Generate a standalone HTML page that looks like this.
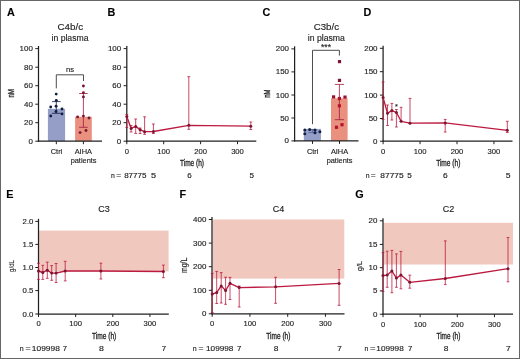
<!DOCTYPE html>
<html><head><meta charset="utf-8"><style>
html,body{margin:0;padding:0;background:#fff;width:520px;height:359px;overflow:hidden;position:relative}
</style></head><body>
<svg width="520" height="359" viewBox="0 0 520 359" style="display:block;position:absolute;left:0;top:0;filter:blur(0.25px)">
<g font-family='"Liberation Sans", sans-serif'>
<rect x="0" y="0" width="520" height="359" fill="#fff"/>
<text x="6.9" y="15.9" font-size="10.8" text-anchor="start" font-weight="bold" fill="#000"  stroke="#2a2a2a" stroke-width="0.15">A</text>
<text x="107.6" y="15.8" font-size="10.8" text-anchor="start" font-weight="bold" fill="#000"  stroke="#2a2a2a" stroke-width="0.15">B</text>
<text x="262.5" y="15.9" font-size="10.8" text-anchor="start" font-weight="bold" fill="#000"  stroke="#2a2a2a" stroke-width="0.15">C</text>
<text x="363.4" y="15.9" font-size="10.8" text-anchor="start" font-weight="bold" fill="#000"  stroke="#2a2a2a" stroke-width="0.15">D</text>
<text x="6.2" y="198" font-size="10.8" text-anchor="start" font-weight="bold" fill="#000"  stroke="#2a2a2a" stroke-width="0.15">E</text>
<text x="179.4" y="197.9" font-size="10.8" text-anchor="start" font-weight="bold" fill="#000"  stroke="#2a2a2a" stroke-width="0.15">F</text>
<text x="355.3" y="198.1" font-size="10.8" text-anchor="start" font-weight="bold" fill="#000"  stroke="#2a2a2a" stroke-width="0.15">G</text>
<text x="70.35" y="29.7" font-size="9.5" text-anchor="middle" font-weight="normal" fill="#222" textLength="25.6" lengthAdjust="spacingAndGlyphs"  stroke="#2a2a2a" stroke-width="0.15">C4b/c</text>
<text x="70.0" y="40.5" font-size="8.4" text-anchor="middle" font-weight="normal" fill="#222" textLength="37.0" lengthAdjust="spacingAndGlyphs"  stroke="#2a2a2a" stroke-width="0.15">in plasma</text>
<rect x="47.9" y="108.8" width="17.2" height="32.39999999999999" fill="#949ec6"/>
<rect x="75.1" y="116.8" width="16.7" height="24.39999999999999" fill="#e9907f"/>
<line x1="56.3" y1="101.6" x2="56.3" y2="113.3" stroke="#101e42" stroke-width="0.8"/>
<line x1="52.0" y1="101.6" x2="60.599999999999994" y2="101.6" stroke="#101e42" stroke-width="0.8"/>
<line x1="52.0" y1="113.3" x2="60.599999999999994" y2="113.3" stroke="#101e42" stroke-width="0.8"/>
<line x1="83.4" y1="93.5" x2="83.4" y2="127.3" stroke="#a01a40" stroke-width="0.8"/>
<line x1="79.10000000000001" y1="93.5" x2="87.7" y2="93.5" stroke="#a01a40" stroke-width="0.8"/>
<line x1="79.10000000000001" y1="127.3" x2="87.7" y2="127.3" stroke="#a01a40" stroke-width="0.8"/>
<circle cx="56.2" cy="94.1" r="1.45" fill="#101e42"/>
<circle cx="56.3" cy="100.5" r="1.45" fill="#101e42"/>
<circle cx="56.1" cy="106.3" r="1.45" fill="#101e42"/>
<circle cx="50.7" cy="107" r="1.45" fill="#101e42"/>
<circle cx="62" cy="109" r="1.45" fill="#101e42"/>
<circle cx="56" cy="111.5" r="1.45" fill="#101e42"/>
<circle cx="62" cy="113.9" r="1.45" fill="#101e42"/>
<circle cx="50.7" cy="116" r="1.45" fill="#101e42"/>
<circle cx="83.4" cy="86" r="1.45" fill="#7d1532"/>
<circle cx="83.4" cy="92.8" r="1.45" fill="#7d1532"/>
<circle cx="83.4" cy="96.9" r="1.45" fill="#7d1532"/>
<circle cx="77.6" cy="116.9" r="1.45" fill="#7d1532"/>
<circle cx="83.4" cy="116.1" r="1.45" fill="#7d1532"/>
<circle cx="89" cy="118" r="1.45" fill="#7d1532"/>
<circle cx="80.1" cy="132.6" r="1.45" fill="#7d1532"/>
<circle cx="86" cy="130.5" r="1.45" fill="#7d1532"/>
<path d="M56.3,88.4 V74.8 H83.5 V81" fill="none" stroke="#3a3a3a" stroke-width="0.9"/>
<text x="70.0" y="72.3" font-size="7.6" text-anchor="middle" font-weight="normal" fill="#222"  stroke="#2a2a2a" stroke-width="0.15">ns</text>
<line x1="38.5" y1="46.0" x2="38.5" y2="141.79999999999998" stroke="#202020" stroke-width="1.25"/>
<line x1="35.3" y1="48.6" x2="38.5" y2="48.6" stroke="#202020" stroke-width="1.0"/>
<text x="32.9" y="51.1" font-size="7.4" text-anchor="end" font-weight="normal" fill="#222" textLength="13.26" lengthAdjust="spacingAndGlyphs"  stroke="#2a2a2a" stroke-width="0.15">100</text>
<line x1="35.3" y1="67.2" x2="38.5" y2="67.2" stroke="#202020" stroke-width="1.0"/>
<text x="32.9" y="69.7" font-size="7.4" text-anchor="end" font-weight="normal" fill="#222" textLength="8.84" lengthAdjust="spacingAndGlyphs"  stroke="#2a2a2a" stroke-width="0.15">80</text>
<line x1="35.3" y1="85.7" x2="38.5" y2="85.7" stroke="#202020" stroke-width="1.0"/>
<text x="32.9" y="88.2" font-size="7.4" text-anchor="end" font-weight="normal" fill="#222" textLength="8.84" lengthAdjust="spacingAndGlyphs"  stroke="#2a2a2a" stroke-width="0.15">60</text>
<line x1="35.3" y1="104.2" x2="38.5" y2="104.2" stroke="#202020" stroke-width="1.0"/>
<text x="32.9" y="106.7" font-size="7.4" text-anchor="end" font-weight="normal" fill="#222" textLength="8.84" lengthAdjust="spacingAndGlyphs"  stroke="#2a2a2a" stroke-width="0.15">40</text>
<line x1="35.3" y1="122.7" x2="38.5" y2="122.7" stroke="#202020" stroke-width="1.0"/>
<text x="32.9" y="125.2" font-size="7.4" text-anchor="end" font-weight="normal" fill="#222" textLength="8.84" lengthAdjust="spacingAndGlyphs"  stroke="#2a2a2a" stroke-width="0.15">20</text>
<line x1="35.3" y1="141.2" x2="38.5" y2="141.2" stroke="#202020" stroke-width="1.0"/>
<text x="32.9" y="143.7" font-size="7.4" text-anchor="end" font-weight="normal" fill="#222" textLength="4.42" lengthAdjust="spacingAndGlyphs"  stroke="#2a2a2a" stroke-width="0.15">0</text>
<line x1="37.9" y1="141.2" x2="102" y2="141.2" stroke="#202020" stroke-width="1.25"/>
<line x1="56.3" y1="141.2" x2="56.3" y2="144.2" stroke="#202020" stroke-width="1.0"/>
<line x1="83.4" y1="141.2" x2="83.4" y2="144.2" stroke="#202020" stroke-width="1.0"/>
<text x="56.5" y="153.6" font-size="7.4" text-anchor="middle" font-weight="normal" fill="#222"  stroke="#2a2a2a" stroke-width="0.15">Ctrl</text>
<text x="83.3" y="153.6" font-size="7.4" text-anchor="middle" font-weight="normal" fill="#222"  stroke="#2a2a2a" stroke-width="0.15">AIHA</text>
<text x="83.6" y="162.6" font-size="7.4" text-anchor="middle" font-weight="normal" fill="#222"  stroke="#2a2a2a" stroke-width="0.15">patients</text>
<text x="0" y="0" font-size="8.4" text-anchor="middle" fill="#222" stroke="#2a2a2a" stroke-width="0.35" transform="translate(13.9,93.3) rotate(-90)" textLength="8.6" lengthAdjust="spacingAndGlyphs">nM</text>
<line x1="126.8" y1="46.0" x2="126.8" y2="141.79999999999998" stroke="#202020" stroke-width="1.25"/>
<line x1="123.6" y1="48.6" x2="126.8" y2="48.6" stroke="#202020" stroke-width="1.0"/>
<text x="121.2" y="51.1" font-size="7.4" text-anchor="end" font-weight="normal" fill="#222" textLength="13.26" lengthAdjust="spacingAndGlyphs"  stroke="#2a2a2a" stroke-width="0.15">100</text>
<line x1="123.6" y1="67.2" x2="126.8" y2="67.2" stroke="#202020" stroke-width="1.0"/>
<text x="121.2" y="69.7" font-size="7.4" text-anchor="end" font-weight="normal" fill="#222" textLength="8.84" lengthAdjust="spacingAndGlyphs"  stroke="#2a2a2a" stroke-width="0.15">80</text>
<line x1="123.6" y1="85.7" x2="126.8" y2="85.7" stroke="#202020" stroke-width="1.0"/>
<text x="121.2" y="88.2" font-size="7.4" text-anchor="end" font-weight="normal" fill="#222" textLength="8.84" lengthAdjust="spacingAndGlyphs"  stroke="#2a2a2a" stroke-width="0.15">60</text>
<line x1="123.6" y1="104.2" x2="126.8" y2="104.2" stroke="#202020" stroke-width="1.0"/>
<text x="121.2" y="106.7" font-size="7.4" text-anchor="end" font-weight="normal" fill="#222" textLength="8.84" lengthAdjust="spacingAndGlyphs"  stroke="#2a2a2a" stroke-width="0.15">40</text>
<line x1="123.6" y1="122.7" x2="126.8" y2="122.7" stroke="#202020" stroke-width="1.0"/>
<text x="121.2" y="125.2" font-size="7.4" text-anchor="end" font-weight="normal" fill="#222" textLength="8.84" lengthAdjust="spacingAndGlyphs"  stroke="#2a2a2a" stroke-width="0.15">20</text>
<line x1="123.6" y1="141.2" x2="126.8" y2="141.2" stroke="#202020" stroke-width="1.0"/>
<text x="121.2" y="143.7" font-size="7.4" text-anchor="end" font-weight="normal" fill="#222" textLength="4.42" lengthAdjust="spacingAndGlyphs"  stroke="#2a2a2a" stroke-width="0.15">0</text>
<line x1="126.2" y1="141.2" x2="256.3" y2="141.2" stroke="#202020" stroke-width="1.25"/>
<line x1="126.8" y1="141.2" x2="126.8" y2="144.2" stroke="#202020" stroke-width="1.0"/>
<text x="126.8" y="153.5" font-size="7.6" text-anchor="middle" font-weight="normal" fill="#222" textLength="4.25" lengthAdjust="spacingAndGlyphs"  stroke="#2a2a2a" stroke-width="0.15">0</text>
<line x1="163.7" y1="141.2" x2="163.7" y2="144.2" stroke="#202020" stroke-width="1.0"/>
<text x="163.7" y="153.5" font-size="7.6" text-anchor="middle" font-weight="normal" fill="#222" textLength="12.75" lengthAdjust="spacingAndGlyphs"  stroke="#2a2a2a" stroke-width="0.15">100</text>
<line x1="200.6" y1="141.2" x2="200.6" y2="144.2" stroke="#202020" stroke-width="1.0"/>
<text x="200.6" y="153.5" font-size="7.6" text-anchor="middle" font-weight="normal" fill="#222" textLength="12.75" lengthAdjust="spacingAndGlyphs"  stroke="#2a2a2a" stroke-width="0.15">200</text>
<line x1="237.5" y1="141.2" x2="237.5" y2="144.2" stroke="#202020" stroke-width="1.0"/>
<text x="237.5" y="153.5" font-size="7.6" text-anchor="middle" font-weight="normal" fill="#222" textLength="12.75" lengthAdjust="spacingAndGlyphs"  stroke="#2a2a2a" stroke-width="0.15">300</text>
<line x1="126.8" y1="114.5" x2="126.8" y2="127.5" stroke="#bc1a40" stroke-width="0.8"/>
<line x1="125.39999999999999" y1="114.5" x2="128.2" y2="114.5" stroke="#bc1a40" stroke-width="0.8"/>
<line x1="125.39999999999999" y1="127.5" x2="128.2" y2="127.5" stroke="#bc1a40" stroke-width="0.8"/>
<line x1="131.1" y1="125.5" x2="131.1" y2="132" stroke="#bc1a40" stroke-width="0.8"/>
<line x1="129.7" y1="125.5" x2="132.5" y2="125.5" stroke="#bc1a40" stroke-width="0.8"/>
<line x1="129.7" y1="132" x2="132.5" y2="132" stroke="#bc1a40" stroke-width="0.8"/>
<line x1="135.7" y1="119.0" x2="135.7" y2="133.4" stroke="#bc1a40" stroke-width="0.8"/>
<line x1="134.29999999999998" y1="119.0" x2="137.1" y2="119.0" stroke="#bc1a40" stroke-width="0.8"/>
<line x1="134.29999999999998" y1="133.4" x2="137.1" y2="133.4" stroke="#bc1a40" stroke-width="0.8"/>
<line x1="140.1" y1="128" x2="140.1" y2="133.5" stroke="#bc1a40" stroke-width="0.8"/>
<line x1="138.7" y1="128" x2="141.5" y2="128" stroke="#bc1a40" stroke-width="0.8"/>
<line x1="138.7" y1="133.5" x2="141.5" y2="133.5" stroke="#bc1a40" stroke-width="0.8"/>
<line x1="144.6" y1="116.8" x2="144.6" y2="134.3" stroke="#bc1a40" stroke-width="0.8"/>
<line x1="143.2" y1="116.8" x2="146.0" y2="116.8" stroke="#bc1a40" stroke-width="0.8"/>
<line x1="143.2" y1="134.3" x2="146.0" y2="134.3" stroke="#bc1a40" stroke-width="0.8"/>
<line x1="153.4" y1="124" x2="153.4" y2="133.5" stroke="#bc1a40" stroke-width="0.8"/>
<line x1="152.0" y1="124" x2="154.8" y2="124" stroke="#bc1a40" stroke-width="0.8"/>
<line x1="152.0" y1="133.5" x2="154.8" y2="133.5" stroke="#bc1a40" stroke-width="0.8"/>
<line x1="188.8" y1="76.7" x2="188.8" y2="129.3" stroke="#bc1a40" stroke-width="0.8"/>
<line x1="187.4" y1="76.7" x2="190.20000000000002" y2="76.7" stroke="#bc1a40" stroke-width="0.8"/>
<line x1="187.4" y1="129.3" x2="190.20000000000002" y2="129.3" stroke="#bc1a40" stroke-width="0.8"/>
<line x1="250.8" y1="122" x2="250.8" y2="129.5" stroke="#bc1a40" stroke-width="0.8"/>
<line x1="249.4" y1="122" x2="252.20000000000002" y2="122" stroke="#bc1a40" stroke-width="0.8"/>
<line x1="249.4" y1="129.5" x2="252.20000000000002" y2="129.5" stroke="#bc1a40" stroke-width="0.8"/>
<path d="M126.8,116.4 L131.1,128.4 L135.7,126.4 L140.1,129.8 L144.6,131.7 L153.4,131.5 L188.8,125.3 L250.8,126.2" fill="none" stroke="#bc1a40" stroke-width="1.35" stroke-linejoin="round"/>
<circle cx="126.8" cy="116.4" r="1.5" fill="#7d1532"/>
<circle cx="131.1" cy="128.4" r="1.5" fill="#7d1532"/>
<circle cx="135.7" cy="126.4" r="1.5" fill="#7d1532"/>
<circle cx="140.1" cy="129.8" r="1.5" fill="#7d1532"/>
<circle cx="144.6" cy="131.7" r="1.5" fill="#7d1532"/>
<circle cx="153.4" cy="131.5" r="1.5" fill="#7d1532"/>
<circle cx="188.8" cy="125.3" r="1.5" fill="#7d1532"/>
<circle cx="250.8" cy="126.2" r="1.5" fill="#7d1532"/>
<text x="179.94" y="166.1" font-size="8.8" text-anchor="start" font-weight="normal" fill="#222" textLength="24.03" lengthAdjust="spacingAndGlyphs" stroke="#222" stroke-width="0.3">Time (h)</text>
<text x="111.0" y="177.9" font-size="7.3" text-anchor="start" font-weight="normal" fill="#222" textLength="3.8" lengthAdjust="spacingAndGlyphs"  stroke="#2a2a2a" stroke-width="0.15">n</text>
<text x="116.2" y="177.9" font-size="7.3" text-anchor="start" font-weight="normal" fill="#222" textLength="4.9" lengthAdjust="spacingAndGlyphs"  stroke="#2a2a2a" stroke-width="0.15">=</text>
<text x="124.16" y="177.9" font-size="7.3" text-anchor="start" font-weight="normal" fill="#222" textLength="22.28" lengthAdjust="spacingAndGlyphs"  stroke="#2a2a2a" stroke-width="0.15">87775</text>
<text x="151.06" y="177.9" font-size="7.3" text-anchor="start" font-weight="normal" fill="#222" textLength="5.08" lengthAdjust="spacingAndGlyphs"  stroke="#2a2a2a" stroke-width="0.15">5</text>
<text x="187.16" y="177.9" font-size="7.3" text-anchor="start" font-weight="normal" fill="#222" textLength="4.48" lengthAdjust="spacingAndGlyphs"  stroke="#2a2a2a" stroke-width="0.15">6</text>
<text x="249.56" y="177.9" font-size="7.3" text-anchor="start" font-weight="normal" fill="#222" textLength="4.48" lengthAdjust="spacingAndGlyphs"  stroke="#2a2a2a" stroke-width="0.15">5</text>
<text x="326.4" y="30.0" font-size="9.5" text-anchor="middle" font-weight="normal" fill="#222" textLength="25.3" lengthAdjust="spacingAndGlyphs"  stroke="#2a2a2a" stroke-width="0.15">C3b/c</text>
<text x="326.3" y="41.0" font-size="8.4" text-anchor="middle" font-weight="normal" fill="#222" textLength="37.0" lengthAdjust="spacingAndGlyphs"  stroke="#2a2a2a" stroke-width="0.15">in plasma</text>
<rect x="303.8" y="128.9" width="17.1" height="12.0" fill="#949ec6"/>
<rect x="331.0" y="98.3" width="16.6" height="42.60000000000001" fill="#e9907f"/>
<line x1="312.4" y1="129.6" x2="312.4" y2="132.6" stroke="#3a4f86" stroke-width="0.6"/>
<line x1="308.4" y1="129.6" x2="316.4" y2="129.6" stroke="#3a4f86" stroke-width="0.6"/>
<line x1="308.4" y1="132.6" x2="316.4" y2="132.6" stroke="#3a4f86" stroke-width="0.6"/>
<line x1="339.4" y1="84.4" x2="339.4" y2="119.7" stroke="#a01a40" stroke-width="0.8"/>
<line x1="334.79999999999995" y1="84.4" x2="344.0" y2="84.4" stroke="#a01a40" stroke-width="0.8"/>
<line x1="334.79999999999995" y1="119.7" x2="344.0" y2="119.7" stroke="#a01a40" stroke-width="0.8"/>
<circle cx="304.8" cy="130" r="1.5" fill="#101e42"/>
<circle cx="309.7" cy="129.5" r="1.5" fill="#101e42"/>
<circle cx="315" cy="129.9" r="1.5" fill="#101e42"/>
<circle cx="319.9" cy="131.8" r="1.5" fill="#101e42"/>
<circle cx="304.8" cy="133.8" r="1.5" fill="#101e42"/>
<circle cx="315" cy="132.8" r="1.5" fill="#101e42"/>
<rect x="337.9" y="60.0" width="3.2" height="3.2" fill="#7d1532"/>
<rect x="337.9" y="78.80000000000001" width="3.2" height="3.2" fill="#7d1532"/>
<rect x="332.0" y="95.30000000000001" width="3.2" height="3.2" fill="#9a1030"/>
<rect x="337.79999999999995" y="96.9" width="3.2" height="3.2" fill="#b0122e"/>
<rect x="343.4" y="95.5" width="3.2" height="3.2" fill="#9a1030"/>
<rect x="337.79999999999995" y="104.2" width="3.2" height="3.2" fill="#b8132e"/>
<rect x="334.9" y="125.7" width="3.2" height="3.2" fill="#b8132e"/>
<rect x="340.4" y="123.10000000000001" width="3.2" height="3.2" fill="#b8132e"/>
<path d="M312.5,124.2 V50.3 H339.4 V55.6" fill="none" stroke="#3a3a3a" stroke-width="0.9"/>
<text x="326.0" y="50.3" font-size="8.6" text-anchor="middle" font-weight="normal" fill="#222"  stroke="#2a2a2a" stroke-width="0.15">***</text>
<line x1="294.6" y1="46.3" x2="294.6" y2="141.5" stroke="#202020" stroke-width="1.25"/>
<line x1="291.40000000000003" y1="48.9" x2="294.6" y2="48.9" stroke="#202020" stroke-width="1.0"/>
<text x="289.0" y="51.4" font-size="7.4" text-anchor="end" font-weight="normal" fill="#222" textLength="13.26" lengthAdjust="spacingAndGlyphs"  stroke="#2a2a2a" stroke-width="0.15">200</text>
<line x1="291.40000000000003" y1="71.9" x2="294.6" y2="71.9" stroke="#202020" stroke-width="1.0"/>
<text x="289.0" y="74.4" font-size="7.4" text-anchor="end" font-weight="normal" fill="#222" textLength="13.26" lengthAdjust="spacingAndGlyphs"  stroke="#2a2a2a" stroke-width="0.15">150</text>
<line x1="291.40000000000003" y1="95.0" x2="294.6" y2="95.0" stroke="#202020" stroke-width="1.0"/>
<text x="289.0" y="97.5" font-size="7.4" text-anchor="end" font-weight="normal" fill="#222" textLength="13.26" lengthAdjust="spacingAndGlyphs"  stroke="#2a2a2a" stroke-width="0.15">100</text>
<line x1="291.40000000000003" y1="118.0" x2="294.6" y2="118.0" stroke="#202020" stroke-width="1.0"/>
<text x="289.0" y="120.5" font-size="7.4" text-anchor="end" font-weight="normal" fill="#222" textLength="8.84" lengthAdjust="spacingAndGlyphs"  stroke="#2a2a2a" stroke-width="0.15">50</text>
<line x1="291.40000000000003" y1="140.9" x2="294.6" y2="140.9" stroke="#202020" stroke-width="1.0"/>
<text x="289.0" y="143.4" font-size="7.4" text-anchor="end" font-weight="normal" fill="#222" textLength="4.42" lengthAdjust="spacingAndGlyphs"  stroke="#2a2a2a" stroke-width="0.15">0</text>
<line x1="294.0" y1="140.9" x2="358.5" y2="140.9" stroke="#202020" stroke-width="1.25"/>
<line x1="312.5" y1="140.9" x2="312.5" y2="143.9" stroke="#202020" stroke-width="1.0"/>
<line x1="339.5" y1="140.9" x2="339.5" y2="143.9" stroke="#202020" stroke-width="1.0"/>
<text x="312.7" y="153.6" font-size="7.4" text-anchor="middle" font-weight="normal" fill="#222"  stroke="#2a2a2a" stroke-width="0.15">Ctrl</text>
<text x="339.5" y="153.6" font-size="7.4" text-anchor="middle" font-weight="normal" fill="#222"  stroke="#2a2a2a" stroke-width="0.15">AIHA</text>
<text x="339.6" y="162.6" font-size="7.4" text-anchor="middle" font-weight="normal" fill="#222"  stroke="#2a2a2a" stroke-width="0.15">patients</text>
<text x="0" y="0" font-size="8.4" text-anchor="middle" fill="#222" stroke="#2a2a2a" stroke-width="0.35" transform="translate(270.3,93.6) rotate(-90)" textLength="8.2" lengthAdjust="spacingAndGlyphs">nM</text>
<line x1="383.1" y1="45.699999999999996" x2="383.1" y2="141.79999999999998" stroke="#202020" stroke-width="1.25"/>
<line x1="379.90000000000003" y1="48.3" x2="383.1" y2="48.3" stroke="#202020" stroke-width="1.0"/>
<text x="377.5" y="50.8" font-size="7.4" text-anchor="end" font-weight="normal" fill="#222" textLength="13.26" lengthAdjust="spacingAndGlyphs"  stroke="#2a2a2a" stroke-width="0.15">200</text>
<line x1="379.90000000000003" y1="71.7" x2="383.1" y2="71.7" stroke="#202020" stroke-width="1.0"/>
<text x="377.5" y="74.2" font-size="7.4" text-anchor="end" font-weight="normal" fill="#222" textLength="13.26" lengthAdjust="spacingAndGlyphs"  stroke="#2a2a2a" stroke-width="0.15">150</text>
<line x1="379.90000000000003" y1="95.1" x2="383.1" y2="95.1" stroke="#202020" stroke-width="1.0"/>
<text x="377.5" y="97.6" font-size="7.4" text-anchor="end" font-weight="normal" fill="#222" textLength="13.26" lengthAdjust="spacingAndGlyphs"  stroke="#2a2a2a" stroke-width="0.15">100</text>
<line x1="379.90000000000003" y1="118.5" x2="383.1" y2="118.5" stroke="#202020" stroke-width="1.0"/>
<text x="377.5" y="121.0" font-size="7.4" text-anchor="end" font-weight="normal" fill="#222" textLength="8.84" lengthAdjust="spacingAndGlyphs"  stroke="#2a2a2a" stroke-width="0.15">50</text>
<line x1="379.90000000000003" y1="141.2" x2="383.1" y2="141.2" stroke="#202020" stroke-width="1.0"/>
<text x="377.5" y="143.7" font-size="7.4" text-anchor="end" font-weight="normal" fill="#222" textLength="4.42" lengthAdjust="spacingAndGlyphs"  stroke="#2a2a2a" stroke-width="0.15">0</text>
<line x1="382.5" y1="141.2" x2="512.5" y2="141.2" stroke="#202020" stroke-width="1.25"/>
<line x1="383.1" y1="141.2" x2="383.1" y2="144.2" stroke="#202020" stroke-width="1.0"/>
<text x="383.1" y="153.5" font-size="7.6" text-anchor="middle" font-weight="normal" fill="#222" textLength="4.25" lengthAdjust="spacingAndGlyphs"  stroke="#2a2a2a" stroke-width="0.15">0</text>
<line x1="420.05" y1="141.2" x2="420.05" y2="144.2" stroke="#202020" stroke-width="1.0"/>
<text x="420.05" y="153.5" font-size="7.6" text-anchor="middle" font-weight="normal" fill="#222" textLength="12.75" lengthAdjust="spacingAndGlyphs"  stroke="#2a2a2a" stroke-width="0.15">100</text>
<line x1="457.0" y1="141.2" x2="457.0" y2="144.2" stroke="#202020" stroke-width="1.0"/>
<text x="457.0" y="153.5" font-size="7.6" text-anchor="middle" font-weight="normal" fill="#222" textLength="12.75" lengthAdjust="spacingAndGlyphs"  stroke="#2a2a2a" stroke-width="0.15">200</text>
<line x1="493.95000000000005" y1="141.2" x2="493.95000000000005" y2="144.2" stroke="#202020" stroke-width="1.0"/>
<text x="493.95000000000005" y="153.5" font-size="7.6" text-anchor="middle" font-weight="normal" fill="#222" textLength="12.75" lengthAdjust="spacingAndGlyphs"  stroke="#2a2a2a" stroke-width="0.15">300</text>
<line x1="383.1" y1="82" x2="383.1" y2="119.5" stroke="#bc1a40" stroke-width="0.8"/>
<line x1="381.70000000000005" y1="82" x2="384.5" y2="82" stroke="#bc1a40" stroke-width="0.8"/>
<line x1="381.70000000000005" y1="119.5" x2="384.5" y2="119.5" stroke="#bc1a40" stroke-width="0.8"/>
<line x1="387.5" y1="105" x2="387.5" y2="125.5" stroke="#bc1a40" stroke-width="0.8"/>
<line x1="386.1" y1="105" x2="388.9" y2="105" stroke="#bc1a40" stroke-width="0.8"/>
<line x1="386.1" y1="125.5" x2="388.9" y2="125.5" stroke="#bc1a40" stroke-width="0.8"/>
<line x1="391.9" y1="103.4" x2="391.9" y2="120" stroke="#bc1a40" stroke-width="0.8"/>
<line x1="390.5" y1="103.4" x2="393.29999999999995" y2="103.4" stroke="#bc1a40" stroke-width="0.8"/>
<line x1="390.5" y1="120" x2="393.29999999999995" y2="120" stroke="#bc1a40" stroke-width="0.8"/>
<line x1="396.4" y1="109.5" x2="396.4" y2="127" stroke="#bc1a40" stroke-width="0.8"/>
<line x1="395.0" y1="109.5" x2="397.79999999999995" y2="109.5" stroke="#bc1a40" stroke-width="0.8"/>
<line x1="395.0" y1="127" x2="397.79999999999995" y2="127" stroke="#bc1a40" stroke-width="0.8"/>
<line x1="401.1" y1="107.3" x2="401.1" y2="121.3" stroke="#bc1a40" stroke-width="0.8"/>
<line x1="399.70000000000005" y1="107.3" x2="402.5" y2="107.3" stroke="#bc1a40" stroke-width="0.8"/>
<line x1="399.70000000000005" y1="121.3" x2="402.5" y2="121.3" stroke="#bc1a40" stroke-width="0.8"/>
<line x1="410" y1="98.4" x2="410" y2="123.2" stroke="#bc1a40" stroke-width="0.8"/>
<line x1="408.6" y1="98.4" x2="411.4" y2="98.4" stroke="#bc1a40" stroke-width="0.8"/>
<line x1="408.6" y1="123.2" x2="411.4" y2="123.2" stroke="#bc1a40" stroke-width="0.8"/>
<line x1="445.2" y1="119.4" x2="445.2" y2="132" stroke="#bc1a40" stroke-width="0.8"/>
<line x1="443.8" y1="119.4" x2="446.59999999999997" y2="119.4" stroke="#bc1a40" stroke-width="0.8"/>
<line x1="443.8" y1="132" x2="446.59999999999997" y2="132" stroke="#bc1a40" stroke-width="0.8"/>
<line x1="507.3" y1="121.3" x2="507.3" y2="132.5" stroke="#bc1a40" stroke-width="0.8"/>
<line x1="505.90000000000003" y1="121.3" x2="508.7" y2="121.3" stroke="#bc1a40" stroke-width="0.8"/>
<line x1="505.90000000000003" y1="132.5" x2="508.7" y2="132.5" stroke="#bc1a40" stroke-width="0.8"/>
<path d="M383.1,97.6 L387.5,113.2 L391.9,110.6 L396.4,112.5 L401.1,121.3 L410,123.2 L445.2,122.9 L507.3,130.3" fill="none" stroke="#bc1a40" stroke-width="1.35" stroke-linejoin="round"/>
<circle cx="383.1" cy="97.6" r="1.5" fill="#7d1532"/>
<circle cx="387.5" cy="113.2" r="1.5" fill="#7d1532"/>
<circle cx="391.9" cy="110.6" r="1.5" fill="#7d1532"/>
<circle cx="396.4" cy="112.5" r="1.5" fill="#7d1532"/>
<circle cx="401.1" cy="121.3" r="1.5" fill="#7d1532"/>
<circle cx="410" cy="123.2" r="1.5" fill="#7d1532"/>
<circle cx="445.2" cy="122.9" r="1.5" fill="#7d1532"/>
<circle cx="507.3" cy="130.3" r="1.5" fill="#7d1532"/>
<text x="396.4" y="108.6" font-size="7.4" text-anchor="middle" font-weight="normal" fill="#222"  stroke="#2a2a2a" stroke-width="0.15">*</text>
<text x="436.14" y="166.1" font-size="8.8" text-anchor="start" font-weight="normal" fill="#222" textLength="24.23" lengthAdjust="spacingAndGlyphs" stroke="#222" stroke-width="0.3">Time (h)</text>
<text x="365.7" y="177.9" font-size="7.3" text-anchor="start" font-weight="normal" fill="#222" textLength="3.8" lengthAdjust="spacingAndGlyphs"  stroke="#2a2a2a" stroke-width="0.15">n</text>
<text x="370.7" y="177.9" font-size="7.3" text-anchor="start" font-weight="normal" fill="#222" textLength="4.9" lengthAdjust="spacingAndGlyphs"  stroke="#2a2a2a" stroke-width="0.15">=</text>
<text x="380.36" y="177.9" font-size="7.3" text-anchor="start" font-weight="normal" fill="#222" textLength="23.28" lengthAdjust="spacingAndGlyphs"  stroke="#2a2a2a" stroke-width="0.15">87775</text>
<text x="407.36" y="177.9" font-size="7.3" text-anchor="start" font-weight="normal" fill="#222" textLength="4.48" lengthAdjust="spacingAndGlyphs"  stroke="#2a2a2a" stroke-width="0.15">5</text>
<text x="442.96" y="177.9" font-size="7.3" text-anchor="start" font-weight="normal" fill="#222" textLength="4.68" lengthAdjust="spacingAndGlyphs"  stroke="#2a2a2a" stroke-width="0.15">6</text>
<text x="505.66" y="177.9" font-size="7.3" text-anchor="start" font-weight="normal" fill="#222" textLength="4.78" lengthAdjust="spacingAndGlyphs"  stroke="#2a2a2a" stroke-width="0.15">5</text>
<rect x="39.1" y="230.6" width="129.5" height="40.79999999999998" fill="#f0c8be"/>
<line x1="38.5" y1="218.8" x2="38.5" y2="314.6" stroke="#202020" stroke-width="1.25"/>
<line x1="35.3" y1="221.4" x2="38.5" y2="221.4" stroke="#202020" stroke-width="1.0"/>
<text x="33.4" y="223.9" font-size="7.4" text-anchor="end" font-weight="normal" fill="#222" textLength="10.84" lengthAdjust="spacingAndGlyphs"  stroke="#2a2a2a" stroke-width="0.15">2.0</text>
<line x1="35.3" y1="244.4" x2="38.5" y2="244.4" stroke="#202020" stroke-width="1.0"/>
<text x="33.4" y="246.9" font-size="7.4" text-anchor="end" font-weight="normal" fill="#222" textLength="10.84" lengthAdjust="spacingAndGlyphs"  stroke="#2a2a2a" stroke-width="0.15">1.5</text>
<line x1="35.3" y1="267.5" x2="38.5" y2="267.5" stroke="#202020" stroke-width="1.0"/>
<text x="33.4" y="270.0" font-size="7.4" text-anchor="end" font-weight="normal" fill="#222" textLength="10.84" lengthAdjust="spacingAndGlyphs"  stroke="#2a2a2a" stroke-width="0.15">1.0</text>
<line x1="35.3" y1="290.6" x2="38.5" y2="290.6" stroke="#202020" stroke-width="1.0"/>
<text x="33.4" y="293.1" font-size="7.4" text-anchor="end" font-weight="normal" fill="#222" textLength="10.84" lengthAdjust="spacingAndGlyphs"  stroke="#2a2a2a" stroke-width="0.15">0.5</text>
<line x1="35.3" y1="314.0" x2="38.5" y2="314.0" stroke="#202020" stroke-width="1.0"/>
<text x="33.4" y="316.5" font-size="7.4" text-anchor="end" font-weight="normal" fill="#222" textLength="10.84" lengthAdjust="spacingAndGlyphs"  stroke="#2a2a2a" stroke-width="0.15">0.0</text>
<line x1="37.9" y1="314.0" x2="168.8" y2="314.0" stroke="#202020" stroke-width="1.25"/>
<line x1="38.5" y1="314.0" x2="38.5" y2="317.0" stroke="#202020" stroke-width="1.0"/>
<text x="38.5" y="326.3" font-size="7.6" text-anchor="middle" font-weight="normal" fill="#222" textLength="4.25" lengthAdjust="spacingAndGlyphs"  stroke="#2a2a2a" stroke-width="0.15">0</text>
<line x1="75.65" y1="314.0" x2="75.65" y2="317.0" stroke="#202020" stroke-width="1.0"/>
<text x="75.65" y="326.3" font-size="7.6" text-anchor="middle" font-weight="normal" fill="#222" textLength="12.75" lengthAdjust="spacingAndGlyphs"  stroke="#2a2a2a" stroke-width="0.15">100</text>
<line x1="112.8" y1="314.0" x2="112.8" y2="317.0" stroke="#202020" stroke-width="1.0"/>
<text x="112.8" y="326.3" font-size="7.6" text-anchor="middle" font-weight="normal" fill="#222" textLength="12.75" lengthAdjust="spacingAndGlyphs"  stroke="#2a2a2a" stroke-width="0.15">200</text>
<line x1="149.95" y1="314.0" x2="149.95" y2="317.0" stroke="#202020" stroke-width="1.0"/>
<text x="149.95" y="326.3" font-size="7.6" text-anchor="middle" font-weight="normal" fill="#222" textLength="12.75" lengthAdjust="spacingAndGlyphs"  stroke="#2a2a2a" stroke-width="0.15">300</text>
<line x1="38.5" y1="263.3" x2="38.5" y2="279.4" stroke="#bc1a40" stroke-width="0.8"/>
<line x1="37.1" y1="263.3" x2="39.9" y2="263.3" stroke="#bc1a40" stroke-width="0.8"/>
<line x1="37.1" y1="279.4" x2="39.9" y2="279.4" stroke="#bc1a40" stroke-width="0.8"/>
<line x1="42.8" y1="265.3" x2="42.8" y2="279.4" stroke="#bc1a40" stroke-width="0.8"/>
<line x1="41.4" y1="265.3" x2="44.199999999999996" y2="265.3" stroke="#bc1a40" stroke-width="0.8"/>
<line x1="41.4" y1="279.4" x2="44.199999999999996" y2="279.4" stroke="#bc1a40" stroke-width="0.8"/>
<line x1="47.3" y1="262.1" x2="47.3" y2="278.3" stroke="#bc1a40" stroke-width="0.8"/>
<line x1="45.9" y1="262.1" x2="48.699999999999996" y2="262.1" stroke="#bc1a40" stroke-width="0.8"/>
<line x1="45.9" y1="278.3" x2="48.699999999999996" y2="278.3" stroke="#bc1a40" stroke-width="0.8"/>
<line x1="51.7" y1="265.6" x2="51.7" y2="280.3" stroke="#bc1a40" stroke-width="0.8"/>
<line x1="50.300000000000004" y1="265.6" x2="53.1" y2="265.6" stroke="#bc1a40" stroke-width="0.8"/>
<line x1="50.300000000000004" y1="280.3" x2="53.1" y2="280.3" stroke="#bc1a40" stroke-width="0.8"/>
<line x1="56.1" y1="263.5" x2="56.1" y2="282.5" stroke="#bc1a40" stroke-width="0.8"/>
<line x1="54.7" y1="263.5" x2="57.5" y2="263.5" stroke="#bc1a40" stroke-width="0.8"/>
<line x1="54.7" y1="282.5" x2="57.5" y2="282.5" stroke="#bc1a40" stroke-width="0.8"/>
<line x1="65.2" y1="261.3" x2="65.2" y2="280.9" stroke="#bc1a40" stroke-width="0.8"/>
<line x1="63.800000000000004" y1="261.3" x2="66.60000000000001" y2="261.3" stroke="#bc1a40" stroke-width="0.8"/>
<line x1="63.800000000000004" y1="280.9" x2="66.60000000000001" y2="280.9" stroke="#bc1a40" stroke-width="0.8"/>
<line x1="100.9" y1="263.2" x2="100.9" y2="279" stroke="#bc1a40" stroke-width="0.8"/>
<line x1="99.5" y1="263.2" x2="102.30000000000001" y2="263.2" stroke="#bc1a40" stroke-width="0.8"/>
<line x1="99.5" y1="279" x2="102.30000000000001" y2="279" stroke="#bc1a40" stroke-width="0.8"/>
<line x1="163.4" y1="265.1" x2="163.4" y2="277.7" stroke="#bc1a40" stroke-width="0.8"/>
<line x1="162.0" y1="265.1" x2="164.8" y2="265.1" stroke="#bc1a40" stroke-width="0.8"/>
<line x1="162.0" y1="277.7" x2="164.8" y2="277.7" stroke="#bc1a40" stroke-width="0.8"/>
<path d="M38.5,271 L42.8,272.5 L47.3,270.2 L51.7,273.1 L56.1,273.1 L65.2,271 L100.9,271 L163.4,271.5" fill="none" stroke="#bc1a40" stroke-width="1.35" stroke-linejoin="round"/>
<circle cx="38.5" cy="271" r="1.5" fill="#7d1532"/>
<circle cx="42.8" cy="272.5" r="1.5" fill="#7d1532"/>
<circle cx="47.3" cy="270.2" r="1.5" fill="#7d1532"/>
<circle cx="51.7" cy="273.1" r="1.5" fill="#7d1532"/>
<circle cx="56.1" cy="273.1" r="1.5" fill="#7d1532"/>
<circle cx="65.2" cy="271" r="1.5" fill="#7d1532"/>
<circle cx="100.9" cy="271" r="1.5" fill="#7d1532"/>
<circle cx="163.4" cy="271.5" r="1.5" fill="#7d1532"/>
<text x="103.9" y="211.8" font-size="9.0" text-anchor="middle" font-weight="normal" fill="#222"  stroke="#2a2a2a" stroke-width="0.15">C3</text>
<text x="0" y="0" font-size="8.0" text-anchor="middle" fill="#222" stroke="#2a2a2a" stroke-width="0.15" transform="translate(14.1,266.0) rotate(-90)" textLength="11.8" lengthAdjust="spacingAndGlyphs">g/dL</text>
<text x="91.94" y="338.5" font-size="8.8" text-anchor="start" font-weight="normal" fill="#222" textLength="24.33" lengthAdjust="spacingAndGlyphs" stroke="#222" stroke-width="0.3">Time (h)</text>
<text x="19.8" y="351.3" font-size="7.3" text-anchor="start" font-weight="normal" fill="#222" textLength="3.9" lengthAdjust="spacingAndGlyphs"  stroke="#2a2a2a" stroke-width="0.15">n</text>
<text x="25.4" y="351.3" font-size="7.3" text-anchor="start" font-weight="normal" fill="#222" textLength="5.2" lengthAdjust="spacingAndGlyphs"  stroke="#2a2a2a" stroke-width="0.15">=</text>
<text x="31.86" y="351.3" font-size="7.3" text-anchor="start" font-weight="normal" fill="#222" textLength="27.98" lengthAdjust="spacingAndGlyphs"  stroke="#2a2a2a" stroke-width="0.15">109998</text>
<text x="62.86" y="351.3" font-size="7.3" text-anchor="start" font-weight="normal" fill="#222" textLength="4.28" lengthAdjust="spacingAndGlyphs"  stroke="#2a2a2a" stroke-width="0.15">7</text>
<text x="98.96" y="351.3" font-size="7.3" text-anchor="start" font-weight="normal" fill="#222" textLength="4.88" lengthAdjust="spacingAndGlyphs"  stroke="#2a2a2a" stroke-width="0.15">8</text>
<text x="161.76" y="351.3" font-size="7.3" text-anchor="start" font-weight="normal" fill="#222" textLength="4.38" lengthAdjust="spacingAndGlyphs"  stroke="#2a2a2a" stroke-width="0.15">7</text>
<rect x="212.6" y="219.5" width="131.70000000000002" height="59.10000000000002" fill="#f0c8be"/>
<line x1="212.0" y1="216.9" x2="212.0" y2="314.40000000000003" stroke="#202020" stroke-width="1.25"/>
<line x1="208.8" y1="219.5" x2="212.0" y2="219.5" stroke="#202020" stroke-width="1.0"/>
<text x="206.4" y="222.0" font-size="7.4" text-anchor="end" font-weight="normal" fill="#222" textLength="13.26" lengthAdjust="spacingAndGlyphs"  stroke="#2a2a2a" stroke-width="0.15">400</text>
<line x1="208.8" y1="243.1" x2="212.0" y2="243.1" stroke="#202020" stroke-width="1.0"/>
<text x="206.4" y="245.6" font-size="7.4" text-anchor="end" font-weight="normal" fill="#222" textLength="13.26" lengthAdjust="spacingAndGlyphs"  stroke="#2a2a2a" stroke-width="0.15">300</text>
<line x1="208.8" y1="266.7" x2="212.0" y2="266.7" stroke="#202020" stroke-width="1.0"/>
<text x="206.4" y="269.2" font-size="7.4" text-anchor="end" font-weight="normal" fill="#222" textLength="13.26" lengthAdjust="spacingAndGlyphs"  stroke="#2a2a2a" stroke-width="0.15">200</text>
<line x1="208.8" y1="290.3" x2="212.0" y2="290.3" stroke="#202020" stroke-width="1.0"/>
<text x="206.4" y="292.8" font-size="7.4" text-anchor="end" font-weight="normal" fill="#222" textLength="13.26" lengthAdjust="spacingAndGlyphs"  stroke="#2a2a2a" stroke-width="0.15">100</text>
<line x1="208.8" y1="313.8" x2="212.0" y2="313.8" stroke="#202020" stroke-width="1.0"/>
<text x="206.4" y="316.3" font-size="7.4" text-anchor="end" font-weight="normal" fill="#222" textLength="4.42" lengthAdjust="spacingAndGlyphs"  stroke="#2a2a2a" stroke-width="0.15">0</text>
<line x1="211.6" y1="313.8" x2="344.5" y2="313.8" stroke="#202020" stroke-width="1.25"/>
<line x1="212.2" y1="313.8" x2="212.2" y2="316.8" stroke="#202020" stroke-width="1.0"/>
<text x="212.2" y="326.1" font-size="7.6" text-anchor="middle" font-weight="normal" fill="#222" textLength="4.25" lengthAdjust="spacingAndGlyphs"  stroke="#2a2a2a" stroke-width="0.15">0</text>
<line x1="249.95" y1="313.8" x2="249.95" y2="316.8" stroke="#202020" stroke-width="1.0"/>
<text x="249.95" y="326.1" font-size="7.6" text-anchor="middle" font-weight="normal" fill="#222" textLength="12.75" lengthAdjust="spacingAndGlyphs"  stroke="#2a2a2a" stroke-width="0.15">100</text>
<line x1="287.7" y1="313.8" x2="287.7" y2="316.8" stroke="#202020" stroke-width="1.0"/>
<text x="287.7" y="326.1" font-size="7.6" text-anchor="middle" font-weight="normal" fill="#222" textLength="12.75" lengthAdjust="spacingAndGlyphs"  stroke="#2a2a2a" stroke-width="0.15">200</text>
<line x1="325.45" y1="313.8" x2="325.45" y2="316.8" stroke="#202020" stroke-width="1.0"/>
<text x="325.45" y="326.1" font-size="7.6" text-anchor="middle" font-weight="normal" fill="#222" textLength="12.75" lengthAdjust="spacingAndGlyphs"  stroke="#2a2a2a" stroke-width="0.15">300</text>
<line x1="212.2" y1="273.4" x2="212.2" y2="312.5" stroke="#bc1a40" stroke-width="0.8"/>
<line x1="210.79999999999998" y1="273.4" x2="213.6" y2="273.4" stroke="#bc1a40" stroke-width="0.8"/>
<line x1="210.79999999999998" y1="312.5" x2="213.6" y2="312.5" stroke="#bc1a40" stroke-width="0.8"/>
<line x1="216.7" y1="271.4" x2="216.7" y2="303.5" stroke="#bc1a40" stroke-width="0.8"/>
<line x1="215.29999999999998" y1="271.4" x2="218.1" y2="271.4" stroke="#bc1a40" stroke-width="0.8"/>
<line x1="215.29999999999998" y1="303.5" x2="218.1" y2="303.5" stroke="#bc1a40" stroke-width="0.8"/>
<line x1="221.2" y1="272.6" x2="221.2" y2="303" stroke="#bc1a40" stroke-width="0.8"/>
<line x1="219.79999999999998" y1="272.6" x2="222.6" y2="272.6" stroke="#bc1a40" stroke-width="0.8"/>
<line x1="219.79999999999998" y1="303" x2="222.6" y2="303" stroke="#bc1a40" stroke-width="0.8"/>
<line x1="225.6" y1="277.2" x2="225.6" y2="304.3" stroke="#bc1a40" stroke-width="0.8"/>
<line x1="224.2" y1="277.2" x2="227.0" y2="277.2" stroke="#bc1a40" stroke-width="0.8"/>
<line x1="224.2" y1="304.3" x2="227.0" y2="304.3" stroke="#bc1a40" stroke-width="0.8"/>
<line x1="230" y1="277.4" x2="230" y2="299.5" stroke="#bc1a40" stroke-width="0.8"/>
<line x1="228.6" y1="277.4" x2="231.4" y2="277.4" stroke="#bc1a40" stroke-width="0.8"/>
<line x1="228.6" y1="299.5" x2="231.4" y2="299.5" stroke="#bc1a40" stroke-width="0.8"/>
<line x1="239.2" y1="286" x2="239.2" y2="307" stroke="#bc1a40" stroke-width="0.8"/>
<line x1="237.79999999999998" y1="286" x2="240.6" y2="286" stroke="#bc1a40" stroke-width="0.8"/>
<line x1="237.79999999999998" y1="307" x2="240.6" y2="307" stroke="#bc1a40" stroke-width="0.8"/>
<line x1="275.6" y1="277.3" x2="275.6" y2="303.3" stroke="#bc1a40" stroke-width="0.8"/>
<line x1="274.20000000000005" y1="277.3" x2="277.0" y2="277.3" stroke="#bc1a40" stroke-width="0.8"/>
<line x1="274.20000000000005" y1="303.3" x2="277.0" y2="303.3" stroke="#bc1a40" stroke-width="0.8"/>
<line x1="339.1" y1="269.5" x2="339.1" y2="305.3" stroke="#bc1a40" stroke-width="0.8"/>
<line x1="337.70000000000005" y1="269.5" x2="340.5" y2="269.5" stroke="#bc1a40" stroke-width="0.8"/>
<line x1="337.70000000000005" y1="305.3" x2="340.5" y2="305.3" stroke="#bc1a40" stroke-width="0.8"/>
<path d="M212.2,294 L216.7,292.6 L221.2,285.9 L225.6,290.5 L230,283.3 L239.2,287.6 L275.6,286.8 L339.1,283.4" fill="none" stroke="#bc1a40" stroke-width="1.35" stroke-linejoin="round"/>
<circle cx="212.2" cy="294" r="1.5" fill="#7d1532"/>
<circle cx="216.7" cy="292.6" r="1.5" fill="#7d1532"/>
<circle cx="221.2" cy="285.9" r="1.5" fill="#7d1532"/>
<circle cx="225.6" cy="290.5" r="1.5" fill="#7d1532"/>
<circle cx="230" cy="283.3" r="1.5" fill="#7d1532"/>
<circle cx="239.2" cy="287.6" r="1.5" fill="#7d1532"/>
<circle cx="275.6" cy="286.8" r="1.5" fill="#7d1532"/>
<circle cx="339.1" cy="283.4" r="1.5" fill="#7d1532"/>
<text x="278.5" y="211.6" font-size="9.0" text-anchor="middle" font-weight="normal" fill="#222"  stroke="#2a2a2a" stroke-width="0.15">C4</text>
<text x="0" y="0" font-size="8.6" text-anchor="middle" fill="#222" stroke="#2a2a2a" stroke-width="0.15" transform="translate(187.0,265.4) rotate(-90)" textLength="15.4" lengthAdjust="spacingAndGlyphs">mg/L</text>
<text x="266.34" y="338.6" font-size="8.8" text-anchor="start" font-weight="normal" fill="#222" textLength="24.03" lengthAdjust="spacingAndGlyphs" stroke="#222" stroke-width="0.3">Time (h)</text>
<text x="192.8" y="351.3" font-size="7.3" text-anchor="start" font-weight="normal" fill="#222" textLength="3.9" lengthAdjust="spacingAndGlyphs"  stroke="#2a2a2a" stroke-width="0.15">n</text>
<text x="198.6" y="351.3" font-size="7.3" text-anchor="start" font-weight="normal" fill="#222" textLength="5.0" lengthAdjust="spacingAndGlyphs"  stroke="#2a2a2a" stroke-width="0.15">=</text>
<text x="206.06" y="351.3" font-size="7.3" text-anchor="start" font-weight="normal" fill="#222" textLength="27.38" lengthAdjust="spacingAndGlyphs"  stroke="#2a2a2a" stroke-width="0.15">109998</text>
<text x="236.96" y="351.3" font-size="7.3" text-anchor="start" font-weight="normal" fill="#222" textLength="4.38" lengthAdjust="spacingAndGlyphs"  stroke="#2a2a2a" stroke-width="0.15">7</text>
<text x="273.76" y="351.3" font-size="7.3" text-anchor="start" font-weight="normal" fill="#222" textLength="4.68" lengthAdjust="spacingAndGlyphs"  stroke="#2a2a2a" stroke-width="0.15">8</text>
<text x="337.26" y="351.3" font-size="7.3" text-anchor="start" font-weight="normal" fill="#222" textLength="4.58" lengthAdjust="spacingAndGlyphs"  stroke="#2a2a2a" stroke-width="0.15">7</text>
<rect x="383.6" y="222.8" width="129.39999999999998" height="41.69999999999999" fill="#f0c8be"/>
<line x1="383.0" y1="218.20000000000002" x2="383.0" y2="314.8" stroke="#202020" stroke-width="1.25"/>
<line x1="379.8" y1="220.8" x2="383.0" y2="220.8" stroke="#202020" stroke-width="1.0"/>
<text x="377.4" y="223.3" font-size="7.4" text-anchor="end" font-weight="normal" fill="#222" textLength="8.84" lengthAdjust="spacingAndGlyphs"  stroke="#2a2a2a" stroke-width="0.15">20</text>
<line x1="379.8" y1="244.4" x2="383.0" y2="244.4" stroke="#202020" stroke-width="1.0"/>
<text x="377.4" y="246.9" font-size="7.4" text-anchor="end" font-weight="normal" fill="#222" textLength="8.84" lengthAdjust="spacingAndGlyphs"  stroke="#2a2a2a" stroke-width="0.15">15</text>
<line x1="379.8" y1="267.7" x2="383.0" y2="267.7" stroke="#202020" stroke-width="1.0"/>
<text x="377.4" y="270.2" font-size="7.4" text-anchor="end" font-weight="normal" fill="#222" textLength="8.84" lengthAdjust="spacingAndGlyphs"  stroke="#2a2a2a" stroke-width="0.15">10</text>
<line x1="379.8" y1="290.9" x2="383.0" y2="290.9" stroke="#202020" stroke-width="1.0"/>
<text x="377.4" y="293.4" font-size="7.4" text-anchor="end" font-weight="normal" fill="#222" textLength="4.42" lengthAdjust="spacingAndGlyphs"  stroke="#2a2a2a" stroke-width="0.15">5</text>
<line x1="379.8" y1="314.2" x2="383.0" y2="314.2" stroke="#202020" stroke-width="1.0"/>
<text x="377.4" y="316.7" font-size="7.4" text-anchor="end" font-weight="normal" fill="#222" textLength="4.42" lengthAdjust="spacingAndGlyphs"  stroke="#2a2a2a" stroke-width="0.15">0</text>
<line x1="382.4" y1="314.2" x2="513.0" y2="314.2" stroke="#202020" stroke-width="1.25"/>
<line x1="383.0" y1="314.2" x2="383.0" y2="317.2" stroke="#202020" stroke-width="1.0"/>
<text x="383.0" y="326.5" font-size="7.6" text-anchor="middle" font-weight="normal" fill="#222" textLength="4.25" lengthAdjust="spacingAndGlyphs"  stroke="#2a2a2a" stroke-width="0.15">0</text>
<line x1="420.15" y1="314.2" x2="420.15" y2="317.2" stroke="#202020" stroke-width="1.0"/>
<text x="420.15" y="326.5" font-size="7.6" text-anchor="middle" font-weight="normal" fill="#222" textLength="12.75" lengthAdjust="spacingAndGlyphs"  stroke="#2a2a2a" stroke-width="0.15">100</text>
<line x1="457.3" y1="314.2" x2="457.3" y2="317.2" stroke="#202020" stroke-width="1.0"/>
<text x="457.3" y="326.5" font-size="7.6" text-anchor="middle" font-weight="normal" fill="#222" textLength="12.75" lengthAdjust="spacingAndGlyphs"  stroke="#2a2a2a" stroke-width="0.15">200</text>
<line x1="494.45" y1="314.2" x2="494.45" y2="317.2" stroke="#202020" stroke-width="1.0"/>
<text x="494.45" y="326.5" font-size="7.6" text-anchor="middle" font-weight="normal" fill="#222" textLength="12.75" lengthAdjust="spacingAndGlyphs"  stroke="#2a2a2a" stroke-width="0.15">300</text>
<line x1="383" y1="252.5" x2="383" y2="291.5" stroke="#bc1a40" stroke-width="0.8"/>
<line x1="381.6" y1="252.5" x2="384.4" y2="252.5" stroke="#bc1a40" stroke-width="0.8"/>
<line x1="381.6" y1="291.5" x2="384.4" y2="291.5" stroke="#bc1a40" stroke-width="0.8"/>
<line x1="387.2" y1="251.2" x2="387.2" y2="287.3" stroke="#bc1a40" stroke-width="0.8"/>
<line x1="385.8" y1="251.2" x2="388.59999999999997" y2="251.2" stroke="#bc1a40" stroke-width="0.8"/>
<line x1="385.8" y1="287.3" x2="388.59999999999997" y2="287.3" stroke="#bc1a40" stroke-width="0.8"/>
<line x1="391.9" y1="250.4" x2="391.9" y2="292.7" stroke="#bc1a40" stroke-width="0.8"/>
<line x1="390.5" y1="250.4" x2="393.29999999999995" y2="250.4" stroke="#bc1a40" stroke-width="0.8"/>
<line x1="390.5" y1="292.7" x2="393.29999999999995" y2="292.7" stroke="#bc1a40" stroke-width="0.8"/>
<line x1="396.4" y1="253.9" x2="396.4" y2="287.3" stroke="#bc1a40" stroke-width="0.8"/>
<line x1="395.0" y1="253.9" x2="397.79999999999995" y2="253.9" stroke="#bc1a40" stroke-width="0.8"/>
<line x1="395.0" y1="287.3" x2="397.79999999999995" y2="287.3" stroke="#bc1a40" stroke-width="0.8"/>
<line x1="400.9" y1="251.4" x2="400.9" y2="288.8" stroke="#bc1a40" stroke-width="0.8"/>
<line x1="399.5" y1="251.4" x2="402.29999999999995" y2="251.4" stroke="#bc1a40" stroke-width="0.8"/>
<line x1="399.5" y1="288.8" x2="402.29999999999995" y2="288.8" stroke="#bc1a40" stroke-width="0.8"/>
<line x1="409.8" y1="275.1" x2="409.8" y2="288.2" stroke="#bc1a40" stroke-width="0.8"/>
<line x1="408.40000000000003" y1="275.1" x2="411.2" y2="275.1" stroke="#bc1a40" stroke-width="0.8"/>
<line x1="408.40000000000003" y1="288.2" x2="411.2" y2="288.2" stroke="#bc1a40" stroke-width="0.8"/>
<line x1="445.3" y1="240.9" x2="445.3" y2="284.6" stroke="#bc1a40" stroke-width="0.8"/>
<line x1="443.90000000000003" y1="240.9" x2="446.7" y2="240.9" stroke="#bc1a40" stroke-width="0.8"/>
<line x1="443.90000000000003" y1="284.6" x2="446.7" y2="284.6" stroke="#bc1a40" stroke-width="0.8"/>
<line x1="508" y1="237.5" x2="508" y2="281.8" stroke="#bc1a40" stroke-width="0.8"/>
<line x1="506.6" y1="237.5" x2="509.4" y2="237.5" stroke="#bc1a40" stroke-width="0.8"/>
<line x1="506.6" y1="281.8" x2="509.4" y2="281.8" stroke="#bc1a40" stroke-width="0.8"/>
<path d="M383,275.5 L387.2,275.1 L391.9,271 L396.4,278.1 L400.9,275.1 L409.8,282.3 L445.3,278.5 L508,268.7" fill="none" stroke="#bc1a40" stroke-width="1.35" stroke-linejoin="round"/>
<circle cx="383" cy="275.5" r="1.5" fill="#7d1532"/>
<circle cx="387.2" cy="275.1" r="1.5" fill="#7d1532"/>
<circle cx="391.9" cy="271" r="1.5" fill="#7d1532"/>
<circle cx="396.4" cy="278.1" r="1.5" fill="#7d1532"/>
<circle cx="400.9" cy="275.1" r="1.5" fill="#7d1532"/>
<circle cx="409.8" cy="282.3" r="1.5" fill="#7d1532"/>
<circle cx="445.3" cy="278.5" r="1.5" fill="#7d1532"/>
<circle cx="508" cy="268.7" r="1.5" fill="#7d1532"/>
<text x="448.4" y="211.8" font-size="9.0" text-anchor="middle" font-weight="normal" fill="#222"  stroke="#2a2a2a" stroke-width="0.15">C2</text>
<text x="0" y="0" font-size="7.6" text-anchor="middle" fill="#222" stroke="#2a2a2a" stroke-width="0.15" transform="translate(362.3,266.0) rotate(-90)" textLength="9.8" lengthAdjust="spacingAndGlyphs">g/L</text>
<text x="436.44" y="338.6" font-size="8.8" text-anchor="start" font-weight="normal" fill="#222" textLength="23.93" lengthAdjust="spacingAndGlyphs" stroke="#222" stroke-width="0.3">Time (h)</text>
<text x="364.5" y="351.3" font-size="7.3" text-anchor="start" font-weight="normal" fill="#222" textLength="3.8" lengthAdjust="spacingAndGlyphs"  stroke="#2a2a2a" stroke-width="0.15">n</text>
<text x="370.1" y="351.3" font-size="7.3" text-anchor="start" font-weight="normal" fill="#222" textLength="5.5" lengthAdjust="spacingAndGlyphs"  stroke="#2a2a2a" stroke-width="0.15">=</text>
<text x="376.36" y="351.3" font-size="7.3" text-anchor="start" font-weight="normal" fill="#222" textLength="27.38" lengthAdjust="spacingAndGlyphs"  stroke="#2a2a2a" stroke-width="0.15">109998</text>
<text x="408.06" y="351.3" font-size="7.3" text-anchor="start" font-weight="normal" fill="#222" textLength="4.38" lengthAdjust="spacingAndGlyphs"  stroke="#2a2a2a" stroke-width="0.15">7</text>
<text x="443.76" y="351.3" font-size="7.3" text-anchor="start" font-weight="normal" fill="#222" textLength="4.68" lengthAdjust="spacingAndGlyphs"  stroke="#2a2a2a" stroke-width="0.15">8</text>
<text x="506.06" y="351.3" font-size="7.3" text-anchor="start" font-weight="normal" fill="#222" textLength="4.68" lengthAdjust="spacingAndGlyphs"  stroke="#2a2a2a" stroke-width="0.15">7</text>
</g></svg>
<div style="position:absolute;left:0;top:0;width:518px;height:357px;border:1px solid #666"></div>
</body></html>
